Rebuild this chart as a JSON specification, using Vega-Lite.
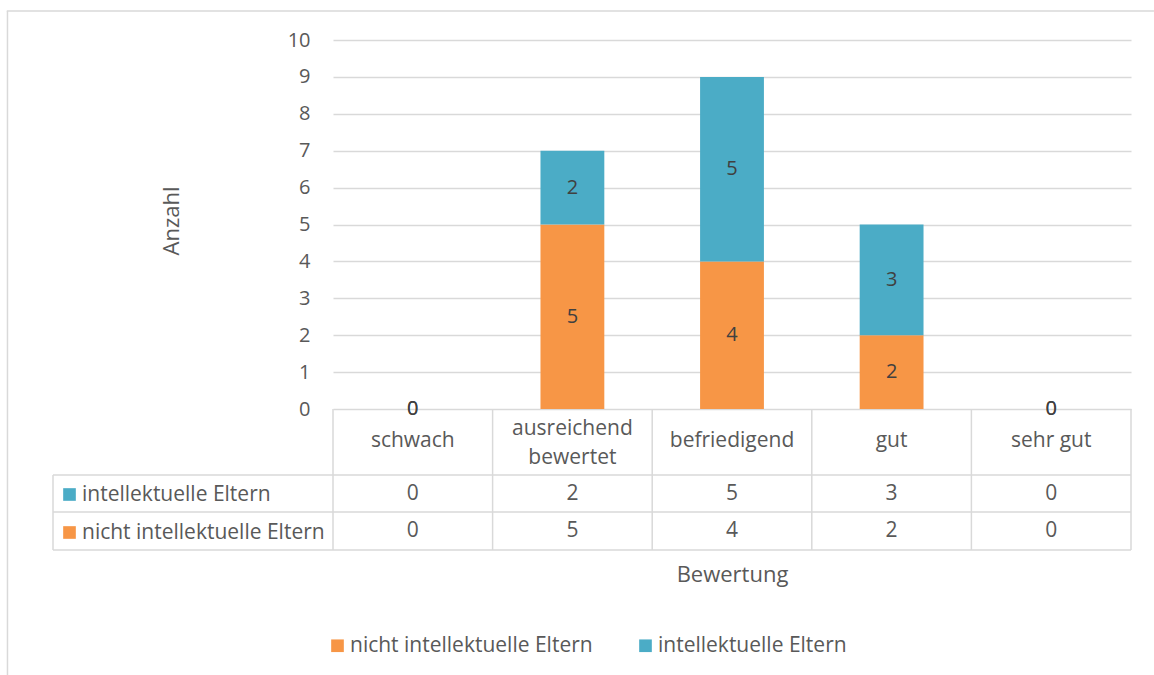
{
  "$schema": "https://vega.github.io/schema/vega-lite/v6.json",
  "width": 1078,
  "height": 510,
  "autosize": {"type": "none"},
  "padding": {"left": 53, "top": 40, "right": 23, "bottom": 125},
  "background": "white",
  "config": {
    "view": {"stroke": null},
    "font": "Open Sans",
    "text": {"font": "Open Sans"}
  },
  "data": {
    "values": [
      {"kategorie": "schwach", "gruppe": "nicht intellektuelle Eltern", "anzahl": 0},
      {"kategorie": "ausreichend bewertet", "gruppe": "nicht intellektuelle Eltern", "anzahl": 5},
      {"kategorie": "befriedigend", "gruppe": "nicht intellektuelle Eltern", "anzahl": 4},
      {"kategorie": "gut", "gruppe": "nicht intellektuelle Eltern", "anzahl": 2},
      {"kategorie": "sehr gut", "gruppe": "nicht intellektuelle Eltern", "anzahl": 0},
      {"kategorie": "schwach", "gruppe": "intellektuelle Eltern", "anzahl": 0},
      {"kategorie": "ausreichend bewertet", "gruppe": "intellektuelle Eltern", "anzahl": 2},
      {"kategorie": "befriedigend", "gruppe": "intellektuelle Eltern", "anzahl": 5},
      {"kategorie": "gut", "gruppe": "intellektuelle Eltern", "anzahl": 3},
      {"kategorie": "sehr gut", "gruppe": "intellektuelle Eltern", "anzahl": 0}
    ]
  },
  "layer": [
    {
      "mark": {"type": "bar"},
      "encoding": {
        "x": {
          "field": "kategorie",
          "type": "nominal",
          "scale": {
            "type": "band",
            "domain": ["schwach", "ausreichend bewertet", "befriedigend", "gut", "sehr gut"],
            "range": [280, 1078],
            "paddingInner": 0.6,
            "paddingOuter": 0.3
          },
          "axis": {
            "title": "Bewertung",
            "labels": false,
            "ticks": false,
            "domain": false,
            "grid": false,
            "titleFont": "Open Sans",
            "titleFontSize": 22,
            "titleFontWeight": "normal",
            "titleColor": "#595959",
            "titlePadding": 14
          }
        },
        "y": {
          "field": "anzahl",
          "type": "quantitative",
          "stack": "zero",
          "scale": {"domain": [-3.821, 10], "nice": false, "zero": false},
          "axis": {
            "values": [0, 1, 2, 3, 4, 5, 6, 7, 8, 9, 10],
            "offset": -280,
            "grid": true,
            "gridColor": "#d9d9d9",
            "gridWidth": 1.5,
            "domain": false,
            "ticks": false,
            "labelPadding": 23,
            "labelFont": "Open Sans",
            "labelFontSize": 20,
            "labelColor": "#595959",
            "title": "Anzahl",
            "titleFont": "Open Sans",
            "titleFontSize": 22,
            "titleFontWeight": "normal",
            "titleColor": "#595959",
            "titleX": -155,
            "titleY": 180.5,
            "titleBaseline": "alphabetic"
          }
        },
        "color": {
          "field": "gruppe",
          "type": "nominal",
          "scale": {
            "domain": ["nicht intellektuelle Eltern", "intellektuelle Eltern"],
            "range": ["#F79646", "#4BACC6"]
          },
          "legend": {
            "orient": "none",
            "legendX": 274,
            "legendY": 595,
            "direction": "horizontal",
            "title": null,
            "padding": 0,
            "symbolType": "square",
            "symbolSize": 160,
            "symbolStrokeWidth": 0,
            "labelFont": "Open Sans",
            "labelFontSize": 21,
            "labelColor": "#595959",
            "labelOffset": 2,
            "labelLimit": 500,
            "columnPadding": 42
          }
        },
        "order": {"field": "gruppe", "sort": "descending"}
      }
    },
    {
      "mark": {"type": "text", "fontSize": 20, "color": "#404040"},
      "encoding": {
        "x": {"field": "kategorie", "type": "nominal"},
        "y": {"field": "anzahl", "type": "quantitative", "stack": "zero", "bandPosition": 0.5},
        "detail": {"field": "gruppe"},
        "order": {"field": "gruppe", "sort": "descending"},
        "text": {"field": "anzahl", "type": "quantitative"}
      }
    },
    {
      "transform": [{"filter": "datum.gruppe === 'intellektuelle Eltern'"}],
      "mark": {
        "type": "text",
        "fontSize": 21,
        "color": "#595959",
        "lineHeight": 29,
        "text": {"expr": "datum.kategorie === 'ausreichend bewertet' ? ['ausreichend', 'bewertet'] : datum.kategorie"},
        "dy": {"expr": "datum.kategorie === 'ausreichend bewertet' ? -12 : 0"}
      },
      "encoding": {
        "x": {"field": "kategorie", "type": "nominal"},
        "y": {"datum": -0.867}
      }
    },
    {
      "transform": [{"filter": "datum.gruppe === 'intellektuelle Eltern'"}],
      "mark": {"type": "text", "fontSize": 21, "color": "#595959"},
      "encoding": {
        "x": {"field": "kategorie", "type": "nominal"},
        "y": {"datum": -2.29},
        "text": {"field": "anzahl", "type": "quantitative"}
      }
    },
    {
      "transform": [{"filter": "datum.gruppe === 'nicht intellektuelle Eltern'"}],
      "mark": {"type": "text", "fontSize": 21, "color": "#595959"},
      "encoding": {
        "x": {"field": "kategorie", "type": "nominal"},
        "y": {"datum": -3.306},
        "text": {"field": "anzahl", "type": "quantitative"}
      }
    },
    {
      "data": {"values": [{}]},
      "mark": {"type": "rule", "color": "#d9d9d9", "strokeWidth": 1.5},
      "encoding": {"y": {"datum": -1.789}}
    },
    {
      "data": {"values": [{}]},
      "mark": {"type": "rule", "color": "#d9d9d9", "strokeWidth": 1.5},
      "encoding": {"y": {"datum": -2.791}}
    },
    {
      "data": {"values": [{}]},
      "mark": {"type": "rule", "color": "#d9d9d9", "strokeWidth": 1.5},
      "encoding": {"y": {"datum": -3.821}}
    },
    {
      "transform": [{"filter": "datum.gruppe === 'intellektuelle Eltern'"}],
      "mark": {"type": "rule", "color": "#d9d9d9", "strokeWidth": 1.5},
      "encoding": {
        "x": {"field": "kategorie", "type": "nominal", "bandPosition": -0.75},
        "y": {"datum": 0},
        "y2": {"datum": -3.821}
      }
    },
    {
      "data": {"values": [{}]},
      "mark": {"type": "rule", "color": "#d9d9d9", "strokeWidth": 1.5},
      "encoding": {
        "x": {"datum": "sehr gut", "bandPosition": 1.75},
        "y": {"datum": 0},
        "y2": {"datum": -3.821}
      }
    },
    {
      "data": {"values": [{}]},
      "mark": {"type": "rule", "color": "#d9d9d9", "strokeWidth": 1.5},
      "encoding": {
        "x": {"datum": "schwach", "bandPosition": -5.136},
        "y": {"datum": -1.789},
        "y2": {"datum": -3.821}
      }
    },
    {
      "data": {"values": [{}]},
      "mark": {"type": "rule", "color": "#d9d9d9", "strokeWidth": 1.5},
      "encoding": {
        "x": {"datum": "schwach", "bandPosition": -5.849},
        "y": {"datum": 10.786},
        "y2": {"datum": -7.21}
      }
    },
    {
      "data": {"values": [{}]},
      "mark": {"type": "rule", "color": "#d9d9d9", "strokeWidth": 1.5},
      "encoding": {
        "x": {"datum": "schwach", "bandPosition": -5.86},
        "x2": {"datum": "sehr gut", "bandPosition": 2.11},
        "y": {"datum": 10.786}
      }
    },
    {
      "mark": {"type": "square", "size": 0, "opacity": 0},
      "encoding": {
        "fill": {
          "field": "gruppe",
          "type": "nominal",
          "scale": {
            "domain": ["intellektuelle Eltern", "nicht intellektuelle Eltern"],
            "range": ["#4BACC6", "#F79646"]
          },
          "legend": {
            "orient": "none",
            "legendX": 6,
            "legendY": 444,
            "direction": "vertical",
            "title": null,
            "padding": 0,
            "symbolType": "square",
            "symbolSize": 160,
            "symbolOpacity": 1,
            "symbolStrokeWidth": 0,
            "labelFont": "Open Sans",
            "labelFontSize": 21,
            "labelColor": "#595959",
            "labelOffset": 2,
            "labelLimit": 500,
            "rowPadding": 16
          }
        }
      }
    }
  ]
}
